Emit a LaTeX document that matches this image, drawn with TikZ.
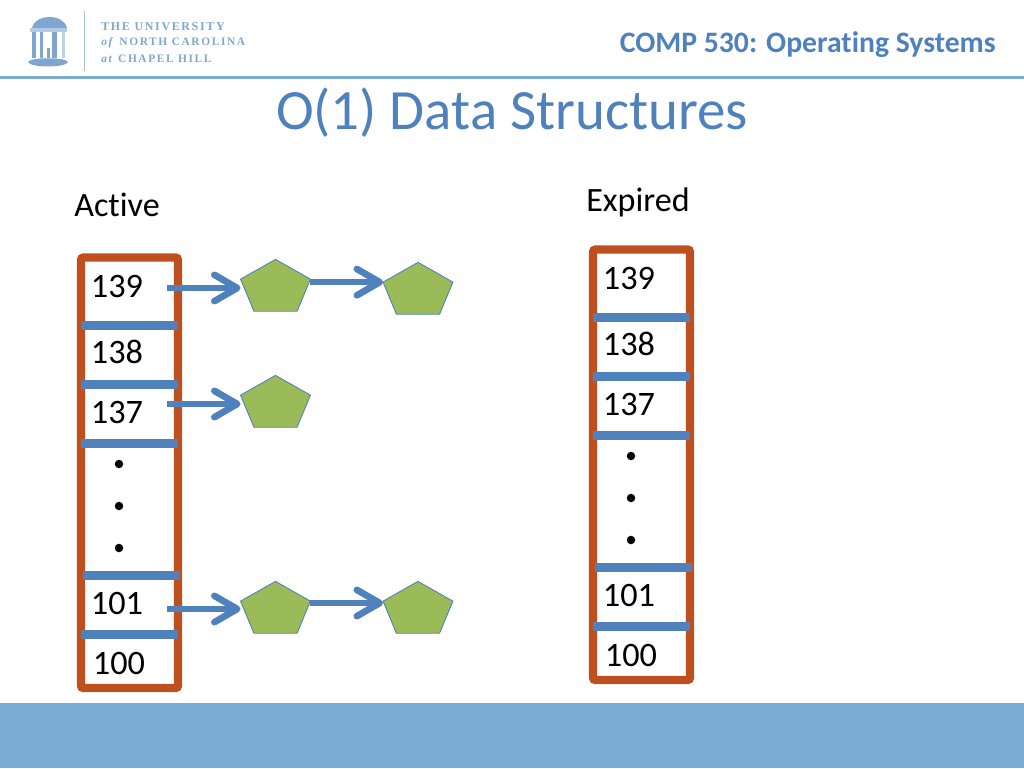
\documentclass[tikz,border=0pt]{standalone}
\usepackage{fontspec}
\setmainfont[Ligatures=CommonOff]{Carlito}
\newfontfamily\logofont[LetterSpace=14]{Liberation Serif}
\usetikzlibrary{arrows.meta,shapes.geometric,positioning}
\definecolor{slideblue}{HTML}{4F81BD}
\definecolor{bandblue}{HTML}{7BACD3}
\definecolor{framered}{HTML}{BE4F1F}
\definecolor{pentgreen}{HTML}{9BBB59}
\definecolor{logoblue}{HTML}{7FA6D0}
\tikzstyle{cell}=[font=\fontsize{19.5}{22}\selectfont,inner sep=0]
\tikzstyle{caption}=[font=\fontsize{19.4}{22}\selectfont,inner sep=0]
\tikzstyle{listbox}=[draw=framered,line width=4.8pt,rounded corners=1.5pt,inner sep=0,fill=white]
\tikzstyle{slot}=[fill=slideblue,minimum width=1.94cm,minimum height=0.18cm,inner sep=0]
\tikzstyle{tickdot}=[circle,fill=black,minimum size=0.17cm,inner sep=0]
\tikzstyle{penta}=[regular polygon,regular polygon sides=5,draw=slideblue,fill=pentgreen,
                   line width=0.5pt,minimum size=1.47cm,inner sep=0,outer sep=0,
                   yscale=0.78,transform shape,node distance=2.85cm]
\tikzstyle{hit}=[-{Straight Barb[round,length=13pt,width=15pt]},draw=slideblue,line width=3.8pt]
\tikzstyle{unc}=[text=logoblue,anchor=west,inner sep=0]
\begin{document}
\begin{tikzpicture}[x=0.02cm,y=-0.02cm]
\path[use as bounding box] (0,0) rectangle (1024,768);

% header and footer
\fill[bandblue] (0,703) rectangle (1024,768);
\draw[bandblue,line width=1.2pt] (0,77.5) -- (1024,77.5);
\node[font=\fontsize{16.9}{20}\selectfont\bfseries,text=slideblue,anchor=east,inner sep=0] (course) at (996,45) {COMP 530: Operating Systems};
\node[font=\fontsize{32.4}{38}\selectfont,text=slideblue,inner sep=0] (title) at (512,113) {O(1) Data Structures};

% logo
\fill[logoblue] (32,28) .. controls (34,20) and (42,17) .. (49,17) .. controls (57,17) and (65,20) .. (67,28) -- cycle;
\fill[logoblue!60] (30,28) rectangle (67,32);
\fill[logoblue] (32,32) rectangle (36,58);
\fill[logoblue] (40,32) rectangle (43,58);
\fill[logoblue] (52,32) rectangle (57,58);
\fill[logoblue!50] (62,32) rectangle (65,58);
\fill[logoblue] (47,48) rectangle (50,58);
\fill[logoblue] (28,62) .. controls (30,57) and (66,57) .. (68,62) .. controls (66,68) and (30,68) .. (28,62) -- cycle;
\draw[logoblue!70,line width=0.5pt] (84,11) -- (84,71);
\node[unc,font=\logofont\fontsize{6.8}{8}\selectfont\bfseries] (unc1) at (101,26.5) {THE UNIVERSITY};
\node[unc,font=\logofont\fontsize{6.5}{8}\selectfont\bfseries] (unc2) at (101,42.5) {\textit{of} NORTH CAROLINA};
\node[unc,font=\logofont\fontsize{6.5}{8}\selectfont\bfseries] (unc3) at (101,58.5) {\textit{at} CHAPEL HILL};

% active list
\node[caption] (active) at (117,205) {Active};
\draw[listbox] (81,257.5) rectangle (178,688);
\node[cell] (a139) at (117,286) {139};
\node[cell] (a138) at (117,352) {138};
\node[cell] (a137) at (117,412) {137};
\node[cell] (a101) at (117,603) {101};
\node[cell] (a100) at (119,663) {100};
\node[slot] (as1) at (129.5,325.5) {};
\node[slot] (as2) at (129.5,384.5) {};
\node[slot] (as3) at (129.5,443) {};
\node[slot] (as4) at (131.5,575) {};
\node[slot] (as5) at (129.5,634) {};
\node[tickdot] (ad1) at (119,464) {};
\node[tickdot] (ad2) at (119,506) {};
\node[tickdot] (ad3) at (119,548) {};

% expired list
\node[caption] (expired) at (638,202.5) {Expired};
\draw[listbox] (593,249.5) rectangle (690,680);
\node[cell] (e139) at (629,278) {139};
\node[cell] (e138) at (629,344) {138};
\node[cell] (e137) at (629,404) {137};
\node[cell] (e101) at (629,595) {101};
\node[cell] (e100) at (631,655) {100};
\node[slot] (es1) at (641.5,317.5) {};
\node[slot] (es2) at (641.5,376.5) {};
\node[slot] (es3) at (641.5,435) {};
\node[slot] (es4) at (643.5,567) {};
\node[slot] (es5) at (641.5,626) {};
\node[tickdot] (ed1) at (631,456) {};
\node[tickdot] (ed2) at (631,498) {};
\node[tickdot] (ed3) at (631,540) {};

% tasks
\node[penta] (p139a) at (275.5,288) {};
\node[penta] (p139b) at (418,291) {};
\node[penta] (p137a) at (275.5,404) {};
\node[penta] (p101a) at (275.5,610) {};
\node[penta,right of=p101a] (p101b) {};

\coordinate (s139) at (167,288);
\coordinate (s137) at (167,404);
\coordinate (s101) at (167,609);
\coordinate (t101) at (383,603);

\draw[hit] (s139) -- (s139 -| p139a.corner 2);
\draw[hit] (s137) -- (s137 -| p137a.corner 2);
\draw[hit] (s101) -- (s101 -| p101a.corner 2);
\draw[hit] (p139a.corner 5 |- p139b.corner 2) -- (p139b.corner 2);
\draw[hit] (p101a.corner 5 |- t101) -- (t101);

\end{tikzpicture}
\end{document}
